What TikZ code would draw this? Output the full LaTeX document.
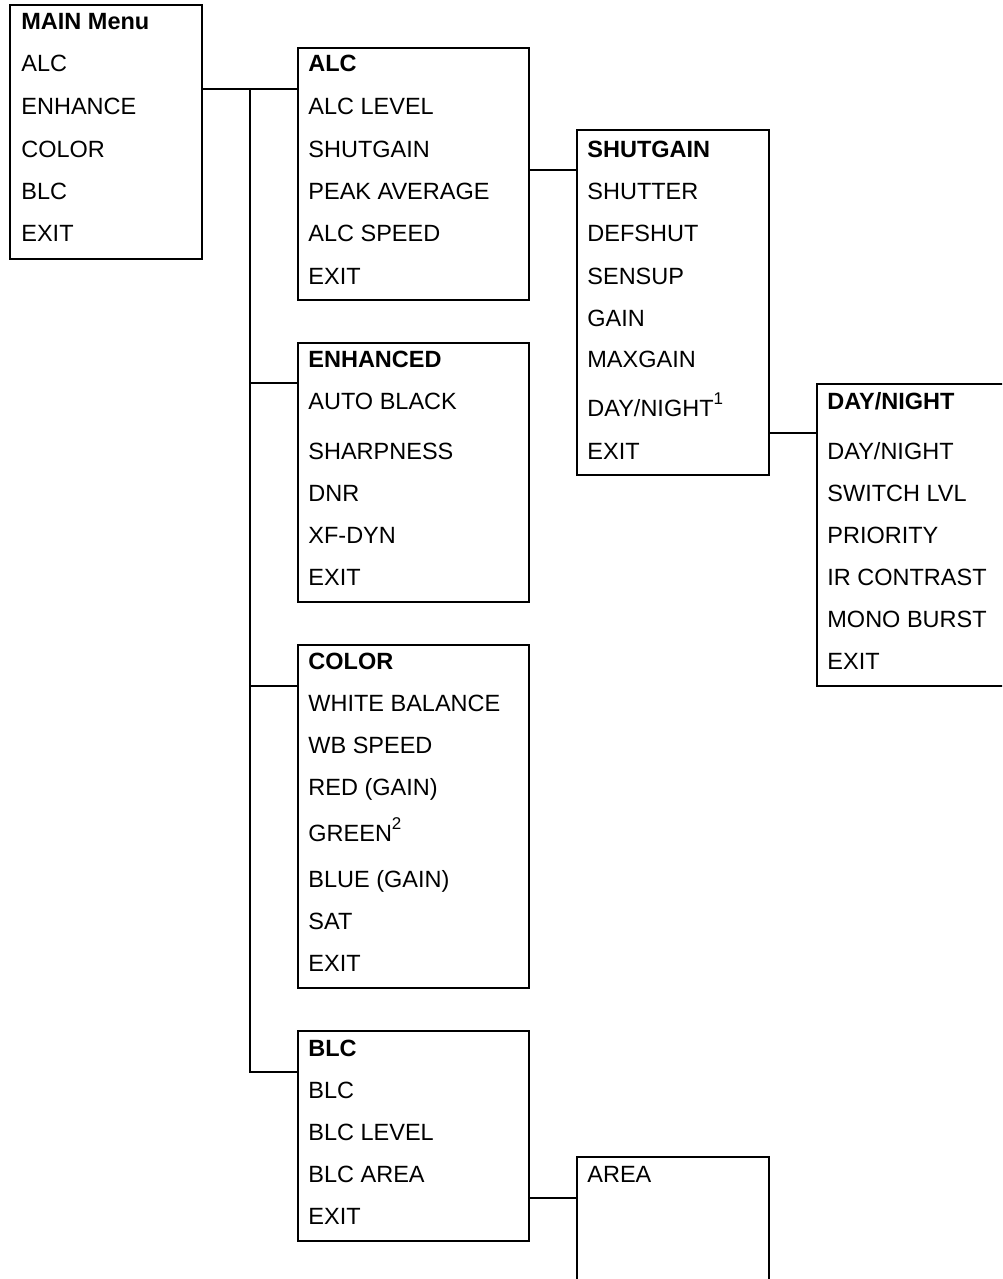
\documentclass[tikz,border=0pt]{standalone}
\usepackage{fontspec}
\setmainfont{Liberation Sans}
\usetikzlibrary{fit}

\newcommand{\fnmark}[1]{\raisebox{0.9ex}{\fontsize{8.5}{9}\selectfont #1}}

\begin{document}
\begin{tikzpicture}[x=0.5pt,y=-0.5pt,
            menu/.style={draw,line width=1pt,inner sep=0pt},
            item/.style={anchor=base west,inner sep=0pt,font=\fontsize{11.75}{14}\selectfont},
            head/.style={item,font=\fontsize{11.75}{14}\selectfont\bfseries},
            link/.style={line width=1pt}]

            \clip (0,0) rectangle (1002,1279);

            % menu frames
            \node[menu,fit={(10,5) (202,259)}] (main) {};
            \node[menu,fit={(298,48) (529,300)}] (alc) {};
            \node[menu,fit={(298,343) (529,602)}] (enh) {};
            \node[menu,fit={(298,645) (529,988)}] (col) {};
            \node[menu,fit={(298,1031) (529,1241)}] (blc) {};
            \node[menu,fit={(577,130) (769,475)}] (shut) {};
            \node[menu,fit={(817,384) (1012,686)}] (dn) {};
            \node[menu,fit={(577,1157) (769,1300)}] (area) {};

            % entries
            \node[head] (main-0) at (21,30) {MAIN Menu};
            \foreach \y/\t [count=\i] in {72/ALC,114/ENHANCE,157/COLOR,199/BLC,241/EXIT}
                \node[item] (main-\i) at (21,\y) {\t};

            \node[head] (alc-0) at (308,72) {ALC};
            \foreach \y/\t [count=\i] in {114/ALC LEVEL,157/SHUTGAIN,199/PEAK AVERAGE,241/ALC SPEED,284/EXIT}
                \node[item] (alc-\i) at (308,\y) {\t};

            \node[head] (enh-0) at (308,367) {ENHANCED};
            \foreach \y/\t [count=\i] in {409/AUTO BLACK,459/SHARPNESS,501/DNR,543/XF-DYN,585/EXIT}
                \node[item] (enh-\i) at (308,\y) {\t};

            \node[head] (col-0) at (308,669) {COLOR};
            \foreach \y/\t [count=\i] in {711/WHITE BALANCE,753/WB SPEED,795/RED (GAIN),
                    841/{GREEN\fnmark{2}},887/BLUE (GAIN),929/SAT,971/EXIT}
                \node[item] (col-\i) at (308,\y) {\t};

            \node[head] (blc-0) at (308,1056) {BLC};
            \foreach \y/\t [count=\i] in {1098/BLC,1140/BLC LEVEL,1182/BLC AREA,1224/EXIT}
                \node[item] (blc-\i) at (308,\y) {\t};

            \node[head] (shut-0) at (587,157) {SHUTGAIN};
            \foreach \y/\t [count=\i] in {199/SHUTTER,241/DEFSHUT,284/SENSUP,326/GAIN,367/MAXGAIN,
                    416/{DAY/NIGHT\fnmark{1}},459/EXIT}
                \node[item] (shut-\i) at (587,\y) {\t};

            \node[head] (dn-0) at (827,409) {DAY/NIGHT};
            \foreach \y/\t [count=\i] in {459/{DAY/NIGHT},501/SWITCH LVL,543/PRIORITY,585/IR CONTRAST,
                    627/MONO BURST,669/EXIT}
                \node[item] (dn-\i) at (827,\y) {\t};

            \node[item] (area-1) at (587,1182) {AREA};

            % tree lines
            \coordinate (j0) at (250,89);
            \coordinate (j1) at (250,383);
            \coordinate (j2) at (250,686);
            \coordinate (j3) at (250,1072);
            \coordinate (j4) at (553,170);
            \coordinate (j5) at (793,433);
            \coordinate (j6) at (553,1198);

            \draw[link] (main.east |- j0) -- (alc.west |- j0);
            \draw[link] (j0) -- (j3) -- (blc.west |- j3);
            \draw[link] (j1) -- (enh.west |- j1);
            \draw[link] (j2) -- (col.west |- j2);
            \draw[link] (alc.east |- j4) -- (shut.west |- j4);
            \draw[link] (shut.east |- j5) -- (dn.west |- j5);
            \draw[link] (blc.east |- j6) -- (area.west |- j6);
        \end{tikzpicture}
\end{document}
